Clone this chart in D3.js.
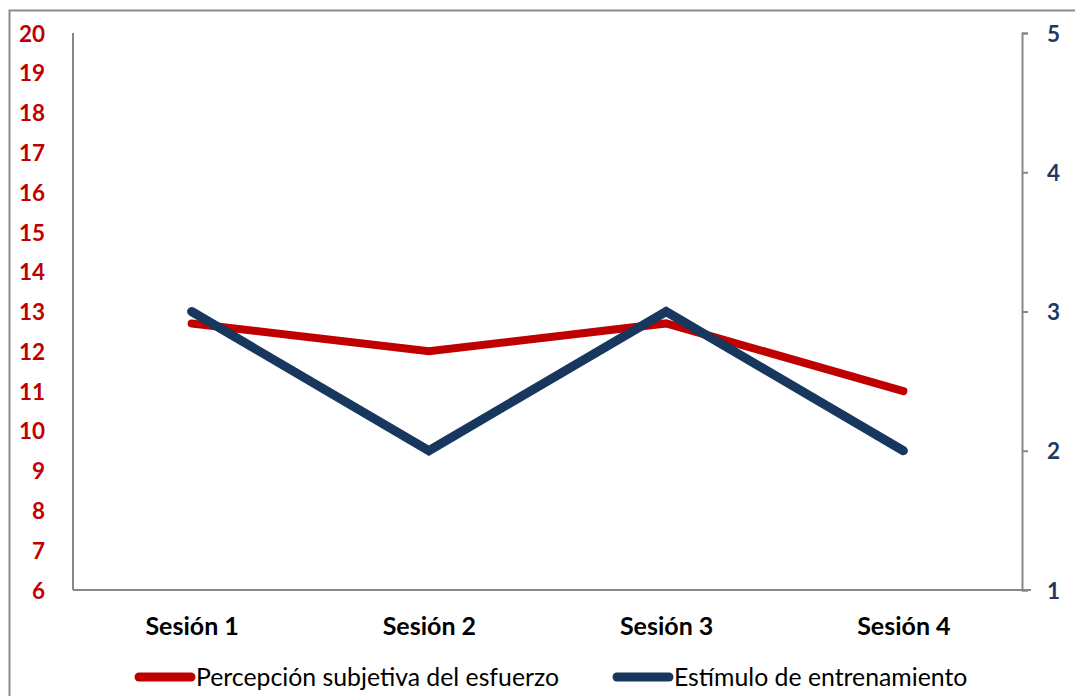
<!DOCTYPE html>
<html><head><meta charset="utf-8">
<script src="https://cdn.jsdelivr.net/npm/d3@7"></script>
<style>body{margin:0;background:#fff;}svg{display:block;}</style>
</head><body>
<svg id="c" width="1075" height="696"></svg>
<script>
const categories = ["Sesión 1","Sesión 2","Sesión 3","Sesión 4"];
const rpeValues = [12.7, 12, 12.7, 11];
const stimulusValues = [3, 2, 3, 2];
const leftTicks = [6,7,8,9,10,11,12,13,14,15,16,17,18,19,20];
const rightTicks = [1,2,3,4,5];
const seriesNames = ["Percepción subjetiva del esfuerzo","Estímulo de entrenamiento"];

const svg = d3.select("#c");
const font = "Lato, 'Open Sans', sans-serif";
const L = 73, R = 1022, T = 33, B = 590;
const red = "#C00000", blue = "#17375E", gray = "#878787";

svg.append("rect").attr("x",9.5).attr("y",10.5).attr("width",1100).attr("height",720)
  .attr("fill","none").attr("stroke","#8c8c8c").attr("stroke-width",2);

const x = d3.scalePoint().domain(categories).range([L,R]).padding(0.5);
const yL = d3.scaleLinear().domain([6,20]).range([B,T]);
const yR = d3.scaleLinear().domain([1,5]).range([B,T]);

svg.append("line").attr("x1",L).attr("x2",L).attr("y1",T).attr("y2",B).attr("stroke",gray).attr("stroke-width",2);
svg.append("line").attr("x1",L).attr("x2",R+9).attr("y1",B).attr("y2",B).attr("stroke",gray).attr("stroke-width",2);

const ra = svg.append("g").attr("transform",`translate(${R},0)`)
  .call(d3.axisRight(yR).tickValues(rightTicks).tickSize(6).tickPadding(19).tickFormat(d3.format("d")));
ra.select(".domain").attr("stroke",gray).attr("stroke-width",2);
ra.selectAll(".tick line").attr("stroke",gray).attr("stroke-width",2);
ra.selectAll(".tick text").attr("fill","#1F3864").attr("font-family",font).attr("font-weight","bold").attr("font-size",22.5).attr("dy","0.36em");

const la = svg.append("g").attr("transform",`translate(${L},0)`)
  .call(d3.axisLeft(yL).tickValues(leftTicks).tickSize(0).tickPadding(28).tickFormat(d3.format("d")));
la.select(".domain").remove();
la.selectAll(".tick text").attr("fill",red).attr("font-family",font).attr("font-weight","bold").attr("font-size",22.5).attr("dy","0.36em");

const xa = svg.append("g").attr("transform",`translate(0,${B})`)
  .call(d3.axisBottom(x).tickSize(0).tickPadding(27));
xa.select(".domain").remove();
xa.selectAll(".tick text").attr("fill","#000").attr("font-family",font).attr("font-weight","bold").attr("font-size",25);

const lineL = d3.line().x((d,i)=>x(categories[i])).y(d=>yL(d));
const lineR = d3.line().x((d,i)=>x(categories[i])).y(d=>yR(d));
svg.append("path").attr("d",lineL(rpeValues)).attr("fill","none").attr("stroke",red).attr("stroke-width",8).attr("stroke-linecap","round").attr("stroke-linejoin","miter");
svg.append("path").attr("d",lineR(stimulusValues)).attr("fill","none").attr("stroke",blue).attr("stroke-width",9).attr("stroke-linecap","round").attr("stroke-linejoin","miter");

const leg = [{name:seriesNames[0],color:red,x0:139},{name:seriesNames[1],color:blue,x0:617}];
leg.forEach(l=>{
  svg.append("line").attr("x1",l.x0).attr("x2",l.x0+52).attr("y1",677).attr("y2",677)
    .attr("stroke",l.color).attr("stroke-width",9).attr("stroke-linecap","round");
  svg.append("text").attr("x",l.x0+57).attr("y",677).attr("dy","0.35em")
    .attr("font-family",font).attr("font-size",24.8).attr("fill","#000").text(l.name);
});
</script>
</body></html>
